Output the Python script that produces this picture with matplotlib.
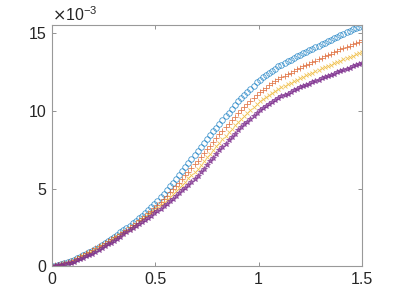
import numpy as np
import matplotlib
matplotlib.use('Agg')
import matplotlib.pyplot as plt

# x grid, 101 samples from 0 to 1.5
x = np.linspace(0, 1.5, 101)

# y values in units of 1e-3
y_blue = [0, .05, .11, .17, .23, .29, .34, .41, .51, .62, .72, .82, .92, 1.02, 1.14, 1.26, 1.39, 1.52, 1.65, 1.77,
          1.9, 2.04, 2.19, 2.33, 2.47, 2.61, 2.76, 2.91, 3.09, 3.27, 3.45, 3.63, 3.81, 3.99, 4.21, 4.44, 4.67, 4.90, 5.14, 5.37,
          5.6, 5.86, 6.13, 6.39, 6.65, 6.91, 7.18, 7.43, 7.68, 7.93, 8.18, 8.42, 8.67, 8.92, 9.16, 9.40, 9.64, 9.88, 10.12, 10.36,
          10.6, 10.80, 11.01, 11.21, 11.41, 11.61, 11.82, 12.0, 12.14, 12.28, 12.43, 12.57, 12.71, 12.85, 12.97, 13.08, 13.18, 13.29, 13.39, 13.50,
          13.6, 13.70, 13.80, 13.89, 13.99, 14.09, 14.19, 14.28, 14.38, 14.48, 14.58, 14.67, 14.77, 14.87, 14.96, 15.05, 15.14, 15.23, 15.32, 15.41,
          15.5]
y_orange = [0, .06, .12, .18, .25, .31, .37, .44, .54, .65, .75, .85, .95, 1.05, 1.16, 1.28, 1.40, 1.52, 1.64, 1.75,
            1.86, 1.94, 2.08, 2.22, 2.36, 2.5, 2.64, 2.79, 2.95, 3.11, 3.27, 3.43, 3.59, 3.76, 3.95, 4.15, 4.35, 4.55, 4.76, 4.96,
            5.16, 5.39, 5.63, 5.86, 6.09, 6.32, 6.56, 6.79, 7.03, 7.27, 7.52, 7.76, 8.0, 8.24, 8.48, 8.70, 8.94, 9.17, 9.40, 9.63,
            9.86, 10.06, 10.26, 10.45, 10.65, 10.84, 11.04, 11.22, 11.35, 11.49, 11.63, 11.76, 11.90, 12.03, 12.15, 12.25, 12.35, 12.46, 12.56, 12.66,
            12.76, 12.85, 12.95, 13.03, 13.13, 13.22, 13.31, 13.40, 13.49, 13.58, 13.67, 13.76, 13.85, 13.94, 14.02, 14.11, 14.19, 14.28, 14.36, 14.45,
            14.53]
y_yellow = [0, .04, .09, .14, .19, .25, .30, .36, .45, .55, .65, .74, .84, .93, 1.04, 1.16, 1.28, 1.40, 1.52, 1.64,
            1.76, 1.86, 2.0, 2.14, 2.27, 2.41, 2.55, 2.69, 2.83, 2.99, 3.13, 3.28, 3.43, 3.58, 3.75, 3.92, 4.10, 4.28, 4.47, 4.64,
            4.82, 5.03, 5.24, 5.45, 5.66, 5.87, 6.08, 6.29, 6.53, 6.77, 7.01, 7.24, 7.48, 7.71, 7.95, 8.16, 8.39, 8.62, 8.84, 9.06,
            9.29, 9.48, 9.68, 9.86, 10.05, 10.25, 10.44, 10.61, 10.74, 10.87, 11.01, 11.14, 11.27, 11.40, 11.51, 11.61, 11.71, 11.81, 11.91, 12.01,
            12.11, 12.19, 12.29, 12.37, 12.46, 12.54, 12.64, 12.72, 12.80, 12.88, 12.97, 13.05, 13.14, 13.22, 13.30, 13.38, 13.46, 13.54, 13.62, 13.70,
            13.77]
y_purple = [0, .03, .07, .11, .16, .21, .25, .31, .39, .48, .57, .65, .74, .82, .93, 1.05, 1.17, 1.29, 1.41, 1.53,
            1.65, 1.79, 1.92, 2.06, 2.19, 2.33, 2.46, 2.60, 2.73, 2.87, 3.0, 3.14, 3.27, 3.41, 3.56, 3.71, 3.87, 4.03, 4.19, 4.34,
            4.5, 4.69, 4.88, 5.06, 5.25, 5.44, 5.63, 5.83, 6.06, 6.29, 6.53, 6.76, 6.99, 7.22, 7.45, 7.66, 7.88, 8.10, 8.32, 8.53,
            8.75, 8.94, 9.13, 9.31, 9.5, 9.69, 9.88, 10.04, 10.17, 10.30, 10.43, 10.55, 10.68, 10.81, 10.92, 11.01, 11.11, 11.21, 11.31, 11.40,
            11.5, 11.58, 11.67, 11.75, 11.83, 11.91, 12.0, 12.08, 12.15, 12.23, 12.31, 12.39, 12.47, 12.54, 12.62, 12.70, 12.77, 12.85, 12.92, 13.0,
            13.07]

x_ticks = [0, 0.5, 1, 1.5]
x_tick_labels = ['0', '0.5', '1', '1.5']
y_ticks = [0, 5, 10, 15]
y_tick_labels = ['0', '5', '10', '15']

plt.rcParams['font.family'] = ['Liberation Sans', 'DejaVu Sans']

fig = plt.figure(figsize=(4, 3), dpi=100)
ax = fig.add_axes([0.13, 0.112, 0.775, 0.804])

ms = 4.0
ax.plot(x, y_blue, 'o', color=(0, 0.447, 0.741), mfc='none', ms=ms, mew=0.6, alpha=0.7)
ax.plot(x, y_orange, '+', color=(0.85, 0.325, 0.098), ms=ms, mew=0.6, alpha=0.75)
ax.plot(x, y_yellow, 'x', color=(0.929, 0.694, 0.125), ms=ms * 0.8, mew=0.6, alpha=0.75)
ax.plot(x, y_purple, '*', color=(0.494, 0.184, 0.556), ms=ms, mew=0.6, alpha=0.75)

ax.set_xlim(0, 1.5)
ax.set_ylim(0, 15.5)
ax.set_xticks(x_ticks)
ax.set_xticklabels(x_tick_labels)
ax.set_yticks(y_ticks)
ax.set_yticklabels(y_tick_labels)

for s in ax.spines.values():
    s.set_color('0.6')
    s.set_linewidth(0.8)
ax.tick_params(direction='in', length=3, width=0.6, color='0.5', labelcolor='#262626',
               labelsize=11.5, top=True, right=True, pad=4)

ax.text(0, 1.006, r'$\times$10$^{\mathregular{-3}}$', transform=ax.transAxes,
        fontsize=11.5, color='#262626', ha='left', va='bottom')

fig.savefig('out.png', dpi=100)
